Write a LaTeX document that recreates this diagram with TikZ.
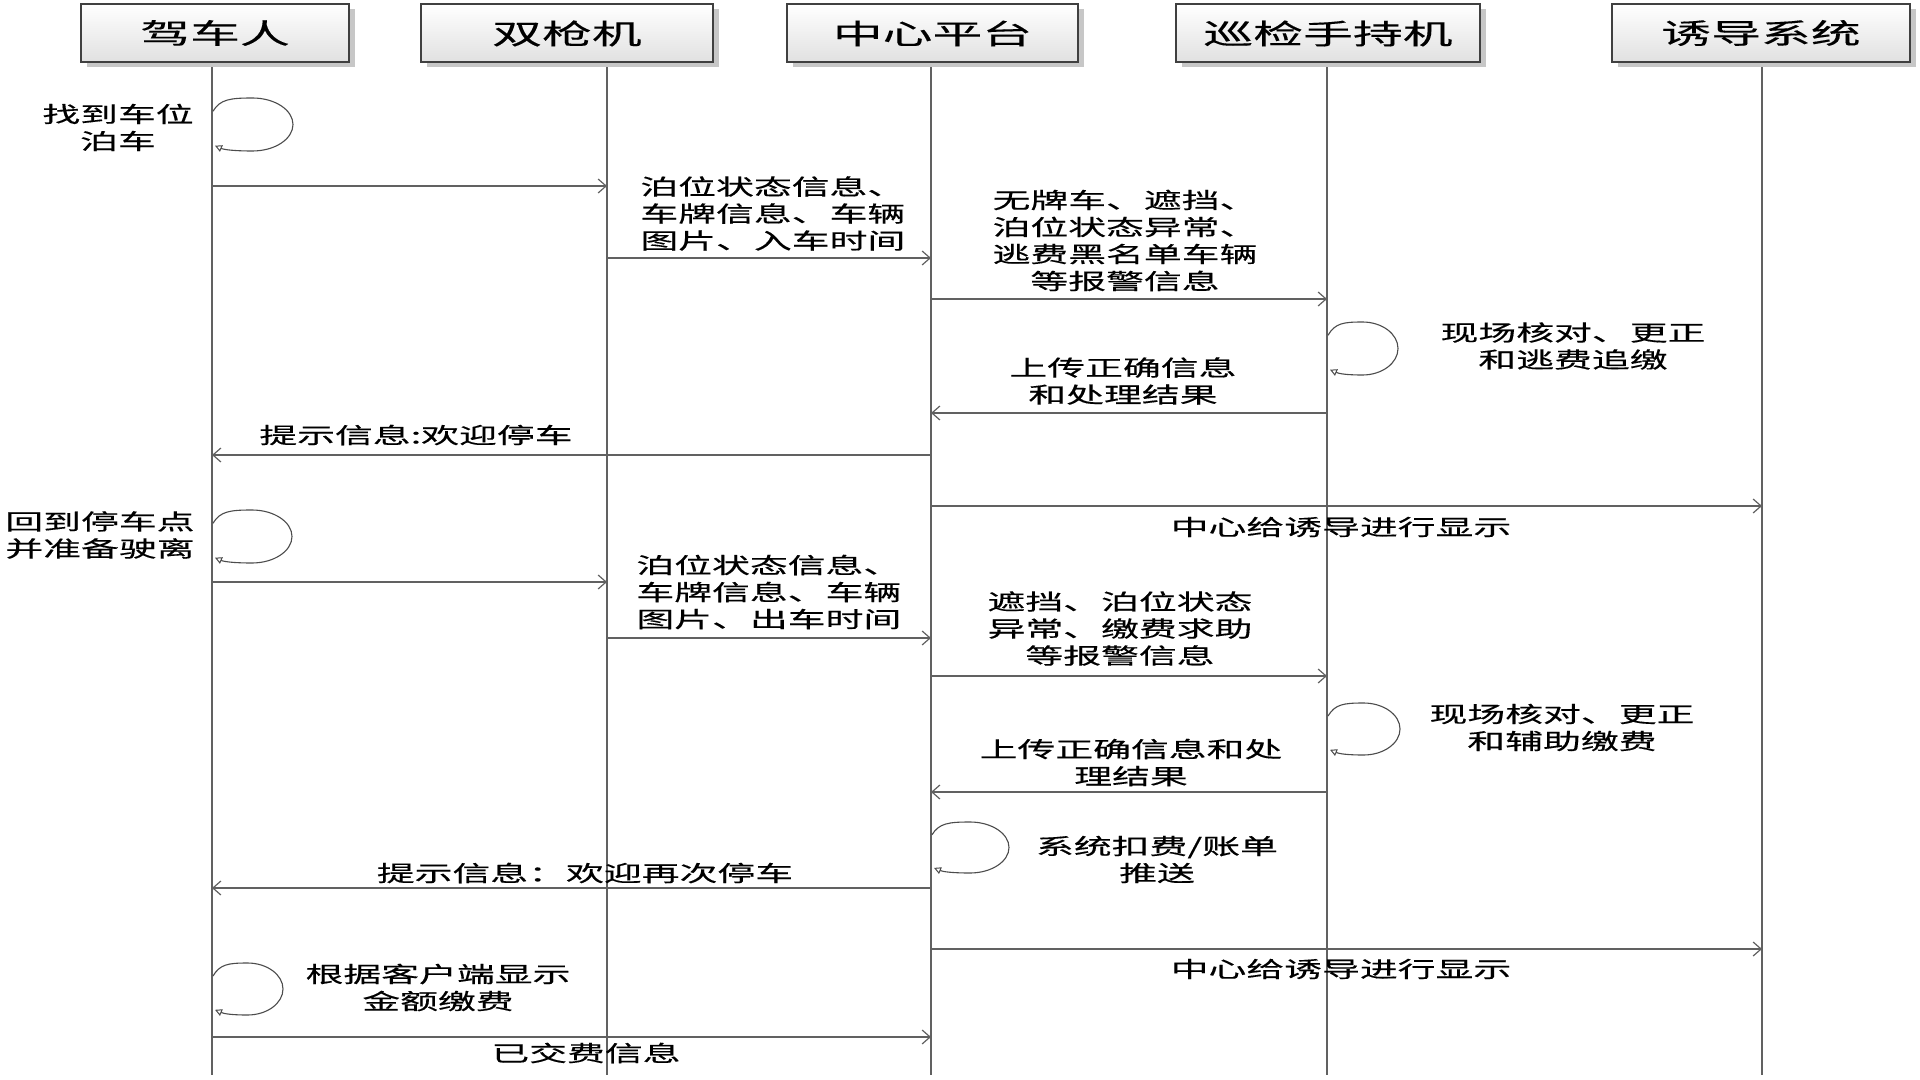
\documentclass[tikz,border=0pt]{standalone}
\usepackage{fontspec}
\setmainfont{Noto Sans CJK SC}[FakeStretch=1.72,FakeBold=0.4]
\newfontfamily\headfont{Noto Sans CJK SC}[FakeStretch=1.78,FakeBold=0.3]
\usetikzlibrary{arrows.meta,shadows}
\newcommand{\sloop}[5]{%
 \draw[loopline] ({#1+1},{#3-0.5*#5}) .. controls ({#1+8},{#3-0.95*#5}) and ({#2-0.55*#4},{#3-#5}) .. ({#2},{#3-#5})
 .. controls ({#2+0.55*#4},{#3-#5}) and ({#2+#4},{#3-0.55*#5}) .. ({#2+#4},{#3})
 .. controls ({#2+#4},{#3+0.55*#5}) and ({#2+0.55*#4},{#3+#5}) .. ({#2},{#3+#5})
 .. controls ({#2-0.45*#4},{#3+#5}) and ({#1+12},{#3+0.95*#5}) .. ({#1+3},{#3+0.8*#5});}
\newcommand{\msgarrow}[3]{\draw[msgline] (#1 |- 0,#3) -- (#2 |- 0,#3);}
\begin{document}
\begin{tikzpicture}[x=0.5pt,y=-0.5pt,
  head/.style={draw=black!75, line width=1pt, top color=white, bottom color=black!12,
    minimum height=29pt, inner sep=0pt, font=\headfont\fontsize{14pt}{16pt}\selectfont,
    drop shadow={shadow xshift=3pt, shadow yshift=-2.5pt, fill=black!22, opacity=1}},
  life/.style={draw=black!62, line width=0.8pt},
  msgline/.style={draw=black!62, line width=0.8pt, -{Straight Barb[length=4pt,width=7pt,line width=0.6pt]}},
  loopline/.style={draw=black!70, line width=0.55pt, -{Triangle[open,length=3.5pt,width=3.5pt,line width=0.5pt]}},
  lbl/.style={font=\fontsize{11pt}{13.5pt}\selectfont, align=center, inner sep=0pt, text=black}
]
\fill[white] (0,0) rectangle (1920,1080);
\useasboundingbox (0,0) rectangle (1920,1080);

% lifelines
\coordinate (drv) at (212,62);  \coordinate (drvB) at (212,1075);
\coordinate (gun) at (607,63);  \coordinate (gunB) at (607,1075);
\coordinate (cen) at (931,63);  \coordinate (cenB) at (931,1075);
\coordinate (ins) at (1327,63); \coordinate (insB) at (1327,1075);
\coordinate (gui) at (1762,62); \coordinate (guiB) at (1762,1075);
\draw[life] (drv) -- (drvB);
\draw[life] (gun) -- (gunB);
\draw[life] (cen) -- (cenB);
\draw[life] (ins) -- (insB);
\draw[life] (gui) -- (guiB);

% headers
\node[head, minimum width=134pt] (hdrv) at (215,33) {驾车人};
\node[head, minimum width=146pt] (hgun) at (567,33.5) {双枪机};
\node[head, minimum width=145.5pt] (hcen) at (932.5,33.5) {中心平台};
\node[head, minimum width=152pt] (hins) at (1328,33.5) {巡检手持机};
\node[head, minimum width=149pt] (hgui) at (1761,33) {诱导系统};

% self loops
\sloop{212}{252.5}{124.5}{40.5}{26.5}
\sloop{212}{252}{536.5}{40}{26.5}
\sloop{1327}{1362.5}{348.5}{35.5}{26.5}
\sloop{1327}{1363.5}{729}{36.5}{26}
\sloop{931}{970}{847.5}{39}{25.5}
\sloop{212}{247.5}{989}{35.5}{26}

% messages
\msgarrow{drv}{gun}{186}
\msgarrow{gun}{cen}{258}
\msgarrow{cen}{ins}{299}
\msgarrow{ins}{cen}{413}
\msgarrow{cen}{drv}{455}
\msgarrow{cen}{gui}{506}
\msgarrow{drv}{gun}{582}
\msgarrow{gun}{cen}{638}
\msgarrow{cen}{ins}{676}
\msgarrow{ins}{cen}{792}
\msgarrow{cen}{drv}{888}
\msgarrow{cen}{gui}{949}
\msgarrow{drv}{cen}{1037}

% labels
\node[lbl] (t1) at (118,127.5) {找到车位\\泊车};
\node[lbl, align=left, anchor=west] (t3) at (640,213.5) {泊位状态信息、\\车牌信息、车辆\\图片、入车时间};
\node[lbl] (t4) at (1125,240.5) {无牌车、遮挡、\\泊位状态异常、\\逃费黑名单车辆\\等报警信息};
\node[lbl] (t5) at (1573,346) {现场核对、更正\\和逃费追缴};
\node[lbl] (t6) at (1123,381) {上传正确信息\\和处理结果};
\node[lbl] (t7) at (416,435) {提示信息:欢迎停车};
\node[lbl] (t8) at (1341,527) {中心给诱导进行显示};
\node[lbl] (t9) at (100,535) {回到停车点\\并准备驶离};
\node[lbl, align=left, anchor=west] (t11) at (636,592) {泊位状态信息、\\车牌信息、车辆\\图片、出车时间};
\node[lbl] (t12) at (1120,628.5) {遮挡、泊位状态\\异常、缴费求助\\等报警信息};
\node[lbl] (t13) at (1562,727.5) {现场核对、更正\\和辅助缴费};
\node[lbl] (t14) at (1131,762.5) {上传正确信息和处\\理结果};
\node[lbl] (t15) at (1157,859.5) {系统扣费/账单\\推送};
\node[lbl] (t16) at (585,873) {提示信息：欢迎再次停车};
\node[lbl] (t17) at (1341,969) {中心给诱导进行显示};
\node[lbl] (t18) at (438,987.5) {根据客户端显示\\金额缴费};
\node[lbl] (t19) at (586,1053) {已交费信息};
\end{tikzpicture}
\end{document}
